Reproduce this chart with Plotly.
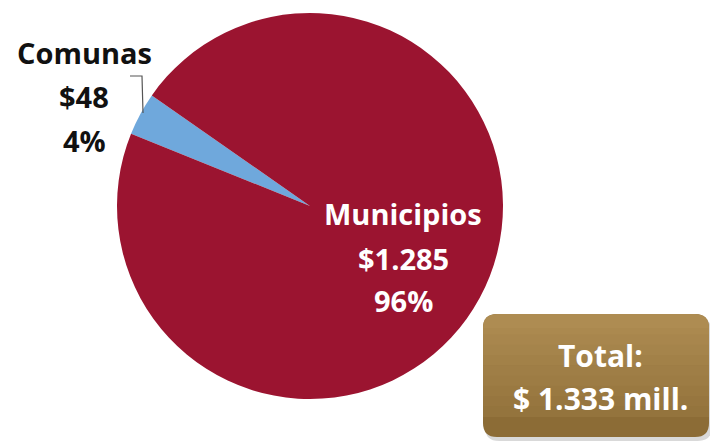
import plotly.graph_objects as go

W, H = 710, 441
categories = ["Comunas", "Municipios"]
values = [48, 1285]
value_labels = ["$48", "$1.285"]
pct_labels = ["4%", "96%"]
total_label = "$ 1.333 mill."
colors = ["#6FA8DC", "#9B1430"]

def px(x):
    return x / W

def py(y):
    return 1 - y / H

fig = go.Figure()
fig.add_trace(go.Pie(
    labels=categories,
    values=values,
    sort=False,
    direction="clockwise",
    rotation=292,
    marker=dict(colors=colors, line=dict(width=0)),
    textinfo="none",
    hoverinfo="label+value+percent",
    showlegend=False,
    domain=dict(x=[px(117), px(503)], y=[py(399), py(13)]),
))

font_family = "'Open Sans', Lato, sans-serif"

# Comunas label (outside, black)
for txt, y in zip([categories[0], value_labels[0], pct_labels[0]], [52, 96, 140]):
    fig.add_annotation(x=px(84), y=py(y), xref="paper", yref="paper",
                       text="<b>%s</b>" % txt, showarrow=False,
                       font=dict(family=font_family, size=29, color="#111111"),
                       xanchor="center", yanchor="middle")

# leader line
fig.add_shape(type="path", xref="paper", yref="paper",
              path="M %f %f L %f %f L %f %f" % (px(130), py(76), px(142), py(76), px(143), py(113)),
              line=dict(color="#555555", width=1.2))

# Municipios label (inside, white)
for txt, y in zip([categories[1], value_labels[1], pct_labels[1]], [213, 258, 300]):
    fig.add_annotation(x=px(403), y=py(y), xref="paper", yref="paper",
                       text="<b>%s</b>" % txt, showarrow=False,
                       font=dict(family=font_family, size=29, color="#FFFFFF"),
                       xanchor="center", yanchor="middle")

# Total box with rounded corners, simulated gradient
def rounded_path(x0, y0, x1, y1, r):
    return ("M %f %f L %f %f Q %f %f %f %f L %f %f Q %f %f %f %f "
            "L %f %f Q %f %f %f %f L %f %f Q %f %f %f %f Z") % (
        x0 + r, y0, x1 - r, y0, x1, y0, x1, y0 + r,
        x1, y1 - r, x1, y1, x1 - r, y1,
        x0 + r, y1, x0, y1, x0, y1 - r,
        x0, y0 + r, x0, y0, x0 + r, y0)

# shadow
fig.add_shape(type="path", xref="x", yref="y",
              path=rounded_path(485, 318, 712, 441, 14),
              fillcolor="rgba(0,0,0,0.15)", line=dict(width=0), layer="above")
x0b, y0b, x1b, y1b = 483, 314, 709, 437
top = (174, 140, 82)
bot = (140, 108, 54)
fig.add_shape(type="path", xref="x", yref="y",
              path=rounded_path(x0b, y0b, x1b, y1b, 14),
              fillcolor="rgb(%d,%d,%d)" % bot, line=dict(width=0), layer="above")
n = 12
for k in range(n):
    t = k / n
    c = tuple(int(top[j] + (bot[j] - top[j]) * t) for j in range(3))
    ya = y0b + (y1b - y0b) * t
    if k == 0:
        fig.add_shape(type="path", xref="x", yref="y",
                      path=rounded_path(x0b, y0b, x1b, y0b + 40, 14),
                      fillcolor="rgb(%d,%d,%d)" % c, line=dict(width=0), layer="above")
    elif ya + (y1b - y0b) / n < y1b - 14:
        fig.add_shape(type="rect", xref="x", yref="y",
                      x0=x0b, x1=x1b, y0=max(ya, y0b + 14), y1=ya + (y1b - y0b) / n + 0.5,
                      fillcolor="rgb(%d,%d,%d)" % c, line=dict(width=0), layer="above")

fig.add_annotation(x=600, y=355, xref="x", yref="y", text="<b>Total:</b>", showarrow=False,
                   font=dict(family=font_family, size=30, color="#FFFFFF"),
                   xanchor="center", yanchor="middle")
fig.add_annotation(x=600, y=398, xref="x", yref="y", text="<b>%s</b>" % total_label, showarrow=False,
                   font=dict(family=font_family, size=30, color="#FFFFFF"),
                   xanchor="center", yanchor="middle")

fig.update_layout(
    width=W, height=H,
    margin=dict(l=0, r=0, t=0, b=0),
    paper_bgcolor="white", plot_bgcolor="rgba(0,0,0,0)",
    xaxis=dict(range=[0, W], visible=False, fixedrange=True),
    yaxis=dict(range=[H, 0], visible=False, fixedrange=True),
)

fig.write_html("out.html", config={"displayModeBar": False},
               post_script="document.body.style.margin='0px';document.body.style.overflow='hidden';")
